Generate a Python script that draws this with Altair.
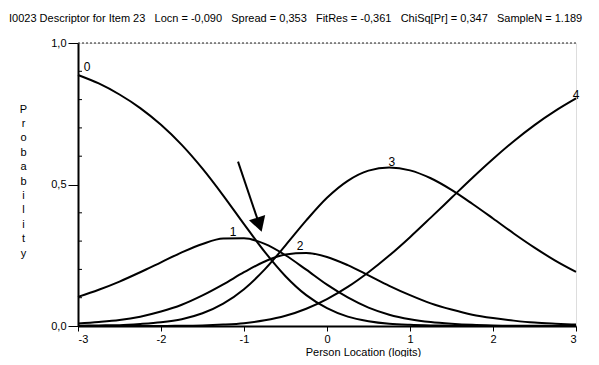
import altair as alt
import pandas as pd

# ---- data ----
theta = [-3, -2.75, -2.5, -2.25, -2, -1.75, -1.5, -1.25, -1, -0.75, -0.5, -0.25,
         0, 0.25, 0.5, 0.75, 1, 1.25, 1.5, 1.75, 2, 2.25, 2.5, 2.75, 3]
p0 = [0.887, 0.857, 0.818, 0.770, 0.711, 0.640, 0.556, 0.461, 0.360, 0.262, 0.176, 0.109,
      0.063, 0.033, 0.017, 0.008, 0.004, 0.002, 0.001, 0.000, 0.000, 0.000, 0.000, 0.000, 0.000]
p1 = [0.103, 0.128, 0.157, 0.190, 0.225, 0.260, 0.290, 0.309, 0.310, 0.290, 0.250, 0.199,
      0.146, 0.101, 0.065, 0.040, 0.024, 0.014, 0.008, 0.004, 0.002, 0.001, 0.001, 0.000, 0.000]
p2 = [0.009, 0.014, 0.021, 0.033, 0.051, 0.075, 0.108, 0.147, 0.190, 0.228, 0.253, 0.258,
      0.244, 0.215, 0.179, 0.142, 0.109, 0.080, 0.058, 0.040, 0.028, 0.019, 0.012, 0.008, 0.005]
p3 = [0.001, 0.002, 0.003, 0.007, 0.013, 0.024, 0.045, 0.079, 0.130, 0.200, 0.285, 0.373,
      0.453, 0.513, 0.549, 0.560, 0.550, 0.522, 0.481, 0.432, 0.380, 0.327, 0.277, 0.231, 0.191]
p4 = [0.000, 0.000, 0.000, 0.000, 0.000, 0.001, 0.002, 0.005, 0.010, 0.020, 0.036, 0.061,
      0.095, 0.138, 0.190, 0.249, 0.314, 0.383, 0.453, 0.523, 0.590, 0.653, 0.710, 0.760, 0.804]
categories = ["0", "1", "2", "3", "4"]

label_x = [-2.89, -1.13, -0.325, 0.78, 3.0]
label_y = [0.916, 0.331, 0.284, 0.579, 0.818]

arrow_x = [-1.072, -0.815]
arrow_y = [0.581, 0.358]

x_ticks = [-3, -2, -1, 0, 1, 2, 3]
y_major = [0.0, 0.5, 1.0]
y_minor = [0.1, 0.2, 0.3, 0.4, 0.6, 0.7, 0.8, 0.9]
top_line = [1.0]

GAP = "\u00a0" * 3
title_text = (f"I0023 Descriptor for Item 23{GAP}Locn = -0,090{GAP}Spread = 0,353"
              f"{GAP}FitRes = -0,361{GAP}ChiSq[Pr] = 0,347{GAP}SampleN = 1.189")
x_title = "Person Location (logits)"
y_title = list("Probability")

FONT = "Liberation Sans"

# ---- tables ----
rows = []
for cat, series in zip(categories, [p0, p1, p2, p3, p4]):
    for t, p in zip(theta, series):
        rows.append({"theta": t, "p": p, "cat": cat})
curves = pd.DataFrame(rows)
labels = pd.DataFrame({"x": label_x, "y": label_y, "t": categories})
arrow = pd.DataFrame({"x0": [arrow_x[0]], "x1": [arrow_x[1]], "y0": [arrow_y[0]], "y1": [arrow_y[1]]})
arrow_head = pd.DataFrame({"x": [arrow_x[1]], "y": [arrow_y[1]]})
minor = pd.DataFrame({"v": y_minor})
dotted = pd.DataFrame({"y": top_line, "x0": [x_ticks[0]], "x1": [x_ticks[-1]]})
ttl = pd.DataFrame({"t": [title_text]})

xs = alt.Scale(domain=[-3, 3], nice=False, zero=False)
ys = alt.Scale(domain=[0, 1], nice=False, zero=False)

x_axis = alt.Axis(values=x_ticks, labelExpr="'' + datum.value", title=x_title,
                  tickSize=5, labelPadding=2, labelFontSize=11, labelFont=FONT,
                  titleFont=FONT, titleFontSize=11, titleFontWeight="normal",
                  titleX=285, titleY=29, titleAnchor="middle", titleBaseline="alphabetic",
                  domainColor="black", domainWidth=2, tickColor="black", labelColor="black",
                  titleColor="black", grid=False)
y_axis = alt.Axis(values=y_major, labelExpr="replace(format(datum.value, '.1f'), '.', ',')",
                  title=y_title, titleAngle=0, titleAlign="center", titleBaseline="top",
                  titleX=-55, titleY=60, titleLineHeight=14.4, titleFont=FONT,
                  titleFontSize=11, titleFontWeight="normal", titleColor="black",
                  tickSize=10, labelPadding=2, labelFontSize=11, labelFont=FONT,
                  domainColor="black", domainWidth=2, tickColor="black", labelColor="black",
                  grid=False)

lines = alt.Chart(curves).mark_line(color="black", strokeWidth=2, interpolate="monotone").encode(
    x=alt.X("theta:Q", scale=xs, axis=x_axis),
    y=alt.Y("p:Q", scale=ys, axis=y_axis),
    detail="cat:N",
)

dot_line = alt.Chart(dotted).mark_rule(color="#222", strokeWidth=1, strokeDash=[2, 2]).encode(
    x=alt.X("x0:Q", scale=xs), x2="x1:Q", y=alt.Y("y:Q", scale=ys))

minor_ticks = alt.Chart(minor).mark_rule(color="black", strokeWidth=1).encode(
    y=alt.Y("v:Q", scale=ys), x=alt.value(0), x2=alt.value(4))

txt = alt.Chart(labels).mark_text(font=FONT, fontSize=12, color="black",
                                  align="center", baseline="middle").encode(
    x=alt.X("x:Q", scale=xs), y=alt.Y("y:Q", scale=ys), text="t:N")

shaft = alt.Chart(arrow).mark_rule(color="black", strokeWidth=2).encode(
    x=alt.X("x0:Q", scale=xs), x2="x1:Q", y=alt.Y("y0:Q", scale=ys), y2="y1:Q")
head = alt.Chart(arrow_head).mark_point(shape="triangle-down", filled=True, color="black",
                                        size=290, angle=342, opacity=1).encode(
    x=alt.X("x:Q", scale=xs), y=alt.Y("y:Q", scale=ys))

title_mark = alt.Chart(ttl).mark_text(font=FONT, fontSize=11, color="black",
                                      align="left", baseline="middle").encode(
    text="t:N", x=alt.value(-69), y=alt.value(-24))

chart = alt.layer(dot_line, minor_ticks, lines, txt, shaft, head, title_mark).properties(
    width=498, height=283,
    autosize=alt.AutoSizeParams(type="none"),
    padding={"left": 70, "top": 35, "right": 15, "bottom": 31},
).configure_view(stroke=None).configure(background="white")

chart.save("out.html", embed_options={"renderer": "svg", "actions": False})
